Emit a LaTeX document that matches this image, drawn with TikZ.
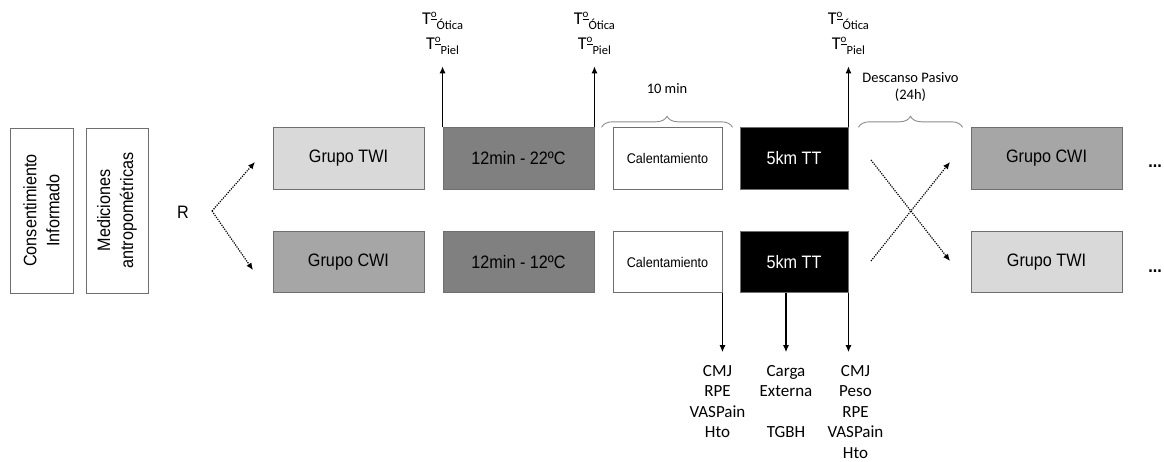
\documentclass[tikz,border=0pt]{standalone}
\usepackage{fontspec}
\setmainfont{Liberation Sans}[FakeStretch=0.9]
\newfontfamily\calibri{Carlito}
\usetikzlibrary{positioning,arrows.meta,decorations.pathreplacing}
\definecolor{twigray}{HTML}{D9D9D9}
\definecolor{cwigray}{HTML}{A6A6A6}
\definecolor{bathgray}{HTML}{808080}
\definecolor{edgegray}{HTML}{6F6F6F}
\definecolor{bracegray}{HTML}{8C8C8C}
\newcommand{\lowsub}[1]{\raisebox{-5pt}{\fontsize{12.5}{12.5}\selectfont #1}}
\newcommand{\ordo}{\raisebox{6.5pt}{\fontsize{11}{11}\selectfont\underline{o}}}

\begin{document}
\begin{tikzpicture}[x=1pt,y=1pt,
  box/.style={draw=edgegray, line width=0.9pt, minimum width=151pt, minimum height=61.5pt,
    inner sep=0pt, font=\fontsize{18}{21}\selectfont},
  sidebox/.style={box, rotate=90, minimum width=165pt, minimum height=63pt, align=center,
    font=\fontsize{18}{23}\selectfont},
  tlab/.style={align=center, inner xsep=2pt, inner ysep=12pt, font=\calibri\fontsize{18}{25}\selectfont},
  mlab/.style={align=center, anchor=north, inner xsep=2pt, inner ysep=13pt, font=\calibri\fontsize{17}{20.5}\selectfont},
  blab/.style={align=center, inner sep=3pt, font=\calibri\fontsize{14.5}{17}\selectfont},
  solid arrow/.style={line width=1.2pt, -{Latex[length=7pt,width=6pt]}},
  dot arrow/.style={line width=1.2pt, dash pattern=on 1.2pt off 1.2pt, -{Latex[length=7pt,width=6pt]}},
  brc/.style={draw=bracegray, line width=0.9pt, decorate, decoration={brace, amplitude=11pt}},
  more/.style={anchor=base, font=\bfseries\fontsize{18}{21}\selectfont}
]
\useasboundingbox (0,0) rectangle (1164,-461);

% before randomisation
\node[sidebox] (cons) at (41.5,-210.5) {Consentimiento\\Informado};
\node[sidebox, minimum height=62pt] (antro) at (117,-210.5) {Mediciones\\antropométricas};
\node[font=\fontsize{18}{21}\selectfont] (rand) at (183,-212) {R};
\coordinate (rsplit) at (212,-211);
\coordinate (rup) at (255,-162);
\coordinate (rdown) at (253,-270);
\draw[dot arrow] (rsplit) -- (rup);
\draw[dot arrow] (rsplit) -- (rdown);

% first session
\node[box, fill=twigray] (g1) at (348.5,-158.5) {Grupo TWI};
\node[box, fill=bathgray] (b1) at (518.5,-158.5) {12min - 22ºC};
\node[box, fill=white, minimum width=109pt, font=\fontsize{14}{17}\selectfont] (c1) at (667.5,-158.5) {Calentamiento};
\node[box, fill=black, text=white, minimum width=108pt] (tt1) at (794,-158.5) {5km TT};

\node[box, fill=cwigray] (g2) at (348.5,-262) {Grupo CWI};
\node[box, fill=bathgray] (b2) at (518.5,-262) {12min - 12ºC};
\node[box, fill=white, minimum width=109pt, font=\fontsize{14}{17}\selectfont] (c2) at (667.5,-262) {Calentamiento};
\node[box, fill=black, text=white, minimum width=108pt] (tt2) at (794,-262) {5km TT};

% second session
\node[box, fill=cwigray] (g3) at (1046.5,-158.5) {Grupo CWI};
\node[box, fill=twigray] (g4) at (1046.5,-262) {Grupo TWI};
\node[more] (more1) at (1155,-167) {...};
\node[more] (more2) at (1155,-272) {...};

% crossover
\coordinate (xa) at (871,-160);
\coordinate (xb) at (950,-261);
\coordinate (xc) at (871,-261);
\coordinate (xd) at (950,-162);
\draw[dot arrow] (xa) -- (xb);
\draw[dot arrow] (xc) -- (xd);

% temperatures
\node[tlab, above=61pt of b1.north west] (t1) {T\ordo\lowsub{Ótica}\\T\ordo\lowsub{Piel}};
\node[tlab, above=61pt of b1.north east] (t2) {T\ordo\lowsub{Ótica}\\T\ordo\lowsub{Piel}};
\node[tlab, above=61pt of tt1.north east] (t3) {T\ordo\lowsub{Ótica}\\T\ordo\lowsub{Piel}};
\draw[solid arrow] (b1.north west) -- (t1.south);
\draw[solid arrow] (b1.north east) -- (t2.south);
\draw[solid arrow] (tt1.north east) -- (t3.south);

% braces
\draw[brc] ([xshift=-11pt]c1.north west) -- node[blab, above=30pt] (ten) {10 min} ([xshift=10pt]c1.north east);
\draw[brc] ([xshift=10pt]tt1.north east) -- node[blab, above=22pt] (rest) {Descanso Pasivo\\(24h)} ([xshift=-8pt]g3.north west);

% measurements
\node[mlab, below=59pt of c2.south east, xshift=-5pt] (m1) {CMJ\\RPE\\VASPain\\Hto};
\node[mlab, below=59pt of tt2.south, xshift=-8pt] (m2) {Carga\\Externa\\[20.5pt]TGBH};
\node[mlab, below=59pt of tt2.south east, xshift=7pt] (m3) {CMJ\\Peso\\RPE\\VASPain\\Hto};
\draw[solid arrow] (c2.south east) -- (c2.south east |- m1.north);
\draw[solid arrow] (tt2.south -| m2.north) -- (m2.north);
\draw[solid arrow] (tt2.south east) -- (tt2.south east |- m3.north);
\end{tikzpicture}
\end{document}
